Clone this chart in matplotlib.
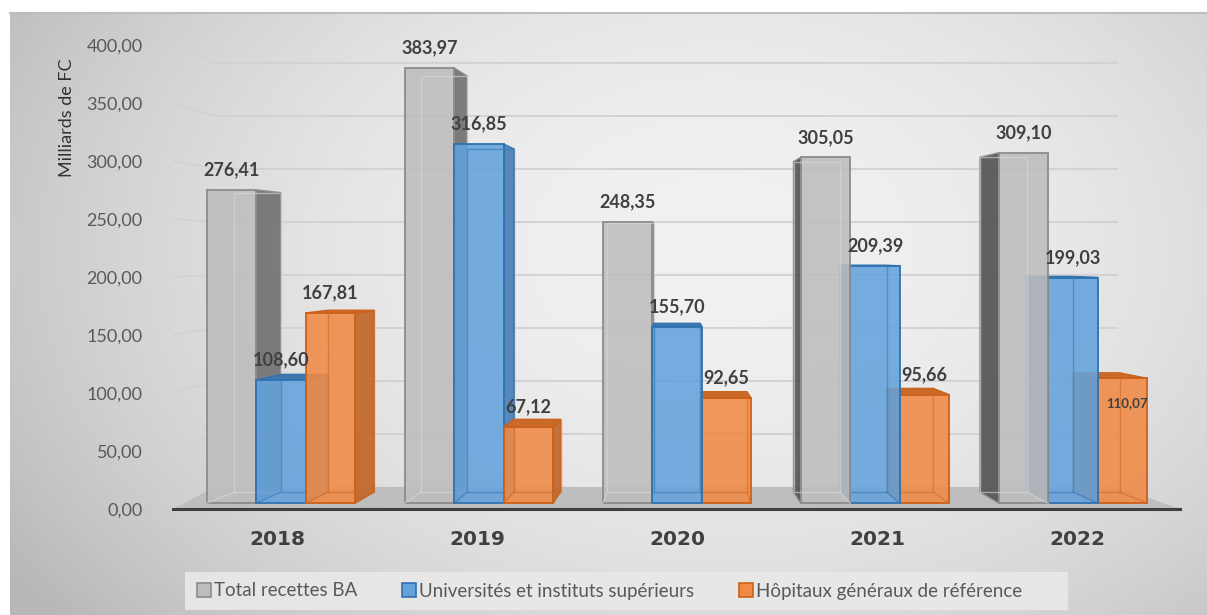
import numpy as np
import matplotlib
matplotlib.use("Agg")
import matplotlib.pyplot as plt
from matplotlib import font_manager
from matplotlib.patches import Polygon, Rectangle, Patch

# ---- data -------------------------------------------------------------
years = ["2018", "2019", "2020", "2021", "2022"]
series_names = ["Total recettes BA",
                "Universités et instituts supérieurs",
                "Hôpitaux généraux de référence"]
total_ba = [276.41, 383.97, 248.35, 305.05, 309.10]
universites = [108.60, 316.85, 155.70, 209.39, 199.03]
hopitaux = [167.81, 67.12, 92.65, 95.66, 110.07]
y_ticks = [0, 50, 100, 150, 200, 250, 300, 350, 400]
y_title = "Milliards de FC"


def fmt(v):
    return f"{v:.2f}".replace(".", ",")


def pick_font(*names):
    avail = {f.name for f in font_manager.fontManager.ttflist}
    for n in names:
        if n in avail:
            return n
    return "DejaVu Sans"


F_MAIN = pick_font("Lato", "Open Sans", "DejaVu Sans")
F_NARROW = pick_font("Liberation Sans Narrow", "Lato", "DejaVu Sans")

W, H = 1207, 615
fig = plt.figure(figsize=(W / 100, H / 100), dpi=100)
fig.patch.set_facecolor("white")

# ---- background panel (soft radial grey gradient) ---------------------
bg = fig.add_axes([0, 0, 1, 1], zorder=-10)
bg.set_xlim(0, W)
bg.set_ylim(H, 0)
bg.axis("off")
yy, xx = np.mgrid[12:H, 10:W]
r2 = ((xx - 720) / 620.0) ** 2 + ((yy - 250) / 430.0) ** 2
g = np.clip(0.945 - 0.12 * r2, 0.72, 1.0)
bg.imshow(np.dstack([g, g, g]), extent=(10, W, H, 12), origin="upper",
          interpolation="bilinear", aspect="auto")
bg.plot([10, W], [12.5, 12.5], color="#bdbdbd", lw=1.5)
bg.add_patch(Rectangle((185, 572), 883, 38, facecolor="#e9e9e9",
                       edgecolor="none", alpha=0.9))

# ---- main axes: data x = group index, data y = value on the front plane
x_lo, x_hi = -0.52, 4.515
ax = fig.add_axes([173 / W, (H - 509) / H, (1180 - 173) / W, (509 - 45) / H])
ax.set_xlim(x_lo, x_hi)
ax.set_ylim(0, 400)
ax.patch.set_alpha(0)
for s in ax.spines.values():
    s.set_visible(False)

# perspective set-up (vanishing point and depth scales)
XVP, VVP = 2.0, 220.5
SX_F, SY_F = 0.99, 0.977      # bar front faces
SX_B, SY_B = 0.932, 0.934     # bar back faces
WALL_SY = 0.9138
wall_x = (-0.31, 4.205)


def P(x, v, sx, sy):
    return (XVP + sx * (x - XVP), VVP + sy * (v - VVP))


def wall_v(v):
    return VVP + WALL_SY * (v - VVP)


# floor
floor = Polygon([(x_lo, 0), (x_hi, 0), (wall_x[1], wall_v(0)), (wall_x[0], wall_v(0))],
                closed=True, facecolor="#bebebe", edgecolor="none", zorder=1,
                clip_on=False)
ax.add_patch(floor)

# gridlines on the back wall, with their slanted run along the side
for v in y_ticks[1:]:
    ax.plot([x_lo, wall_x[0], wall_x[1]], [v, wall_v(v), wall_v(v)],
            color="#d2d2d2", lw=1.4, zorder=0.5, clip_on=False,
            solid_capstyle="butt")

# front axis line
ax.plot([x_lo, x_hi], [0, 0], color="#3f3f3f", lw=2.2, zorder=2, clip_on=False)

# ---- bars ---------------------------------------------------------------
series_vals = [total_ba, universites, hopitaux]
front_col = ["#bdbdbd", "#64a2dc", "#f08a45"]
edge_col = ["#8c8c8c", "#2f72b0", "#cc6018"]
side_right = ["#727272", "#4a80b5", "#c2662a"]
side_left = ["#555555", "#3b6c9c", "#b75a1f"]
top_col = ["#9d9d9d", "#3f78ad", "#c96a2a"]
inner_col = ["#d8d8d8", "#3b78b3", "#d16a25"]
bar_w = 0.25
offsets = [-0.375, -0.125, 0.125]

bars = []
for i in range(len(years)):
    for j in range(3):
        x0 = i + offsets[j]
        bars.append((i, j, x0, x0 + bar_w, series_vals[j][i]))
# draw bars farthest from the viewpoint first
bars.sort(key=lambda b: -abs((b[2] + b[3]) / 2 - XVP))

for (i, j, x0, x1, v) in bars:
    F = lambda x, y: P(x, y, SX_F, SY_F)
    B = lambda x, y: P(x, y, SX_B, SY_B)
    z = 3 + 0.01 * (10 - abs((x0 + x1) / 2 - XVP))
    # side face
    if x1 <= XVP:
        side = [F(x1, 0), F(x1, v), B(x1, v), B(x1, 0)]
        sc = side_right[j]
    elif x0 >= XVP:
        side = [F(x0, 0), F(x0, v), B(x0, v), B(x0, 0)]
        sc = side_left[j]
    else:
        side = None
    if side is not None:
        ax.add_patch(Polygon(side, closed=True, facecolor=sc, edgecolor=edge_col[j],
                             lw=1.0, alpha=0.92, zorder=z, clip_on=False))
    # top face (seen only when the bar is below eye level)
    if v < VVP:
        top = [F(x0, v), F(x1, v), B(x1, v), B(x0, v)]
        ax.add_patch(Polygon(top, closed=True, facecolor=top_col[j],
                             edgecolor=edge_col[j], lw=1.0, zorder=z + 0.001,
                             clip_on=False))
    # front face (slightly see-through)
    fx0, fy0 = F(x0, 0)
    fx1, fy1 = F(x1, v)
    fc = matplotlib.colors.to_rgba(front_col[j], 0.88)
    ax.add_patch(Rectangle((fx0, fy0), fx1 - fx0, fy1 - fy0, facecolor=fc,
                           edgecolor=edge_col[j], lw=1.3, zorder=z + 0.002,
                           clip_on=False))
    # hidden back edges showing through
    bx0, by0 = B(x0, 0)
    bx1, by1 = B(x1, v)
    ax.plot([bx0, bx1, bx1, bx0, bx0], [by0, by0, by1, by1, by0],
            color=inner_col[j], lw=1.0, alpha=0.6, zorder=z + 0.003, clip_on=False)
    if x1 <= XVP:
        ax.plot([fx0, bx0], [fy0, by0], color=inner_col[j], lw=1.0, alpha=0.6,
                zorder=z + 0.003, clip_on=False)
    elif x0 >= XVP:
        ax.plot([fx1, bx1], [fy0, by0], color=inner_col[j], lw=1.0, alpha=0.6,
                zorder=z + 0.003, clip_on=False)

# ---- value labels --------------------------------------------------------
inside_labels = {(2, 4)}
for j in range(3):
    for i in range(len(years)):
        v = series_vals[j][i]
        x0 = i + offsets[j]
        cx = XVP + SX_F * (x0 + bar_w / 2 - XVP)
        ty = VVP + SY_F * (v - VVP)
        if (j, i) in inside_labels:
            ax.annotate(fmt(v), (cx, ty), xytext=(3.5, -18), textcoords="offset points",
                        ha="center", va="center", fontsize=9.5, fontweight="bold",
                        family=F_NARROW, color="#404040", zorder=10,
                        annotation_clip=False)
        else:
            ax.annotate(fmt(v), (cx, ty), xytext=(0, 14.5), textcoords="offset points",
                        ha="center", va="center", fontsize=13, fontweight="bold",
                        family=F_MAIN, color="#404040", zorder=10,
                        annotation_clip=False)

# ---- axes text -----------------------------------------------------------
ax.set_yticks(y_ticks)
ax.set_yticklabels([fmt(t) for t in y_ticks], family=F_MAIN, fontsize=13,
                   color="#595959")
ax.tick_params(axis="y", length=0, pad=22)
ax.set_xticks(range(len(years)))
ax.set_xticklabels(years, family="DejaVu Sans", fontweight="bold", fontsize=14.5,
                   color="#404040")
ax.tick_params(axis="x", length=0, pad=15)

fig.text(67 / W, 1 - 118 / H, y_title, rotation=90, ha="center", va="center",
         family=F_MAIN, fontsize=13, color="#333333")

handles = [Patch(facecolor=front_col[k], edgecolor=edge_col[k], lw=1.2)
           for k in range(3)]
fig.legend(handles, series_names, loc="center left",
           bbox_to_anchor=(184 / W, 1 - 591 / H), ncol=3, frameon=False,
           prop={"family": F_NARROW, "size": 13.5}, labelcolor="#595959",
           handlelength=0.75, handleheight=0.75, handletextpad=0.15,
           columnspacing=2.4, borderpad=0.2)

fig.savefig("out.png", dpi=100, facecolor="white")
